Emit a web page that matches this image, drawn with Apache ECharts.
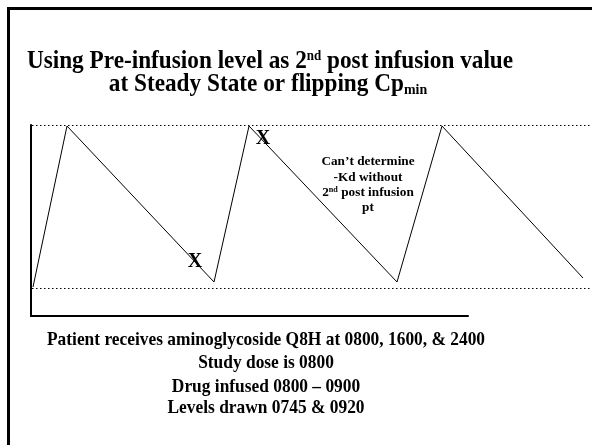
<!DOCTYPE html>
<html>
<head>
<meta charset="utf-8">
<script src="https://cdn.jsdelivr.net/npm/echarts@6/dist/echarts.min.js"></script>
<style>
  html, body { margin: 0; padding: 0; background: #fff; }
  #chart { width: 592px; height: 445px; }
</style>
</head>
<body>
<div id="chart"></div>
<script>
// sawtooth concentration curve (schematic units)
const curveX = [2, 36, 183, 218, 366, 411, 552];
const curveY = [29, 190, 34, 190, 34, 190, 38];
// dotted steady-state levels
const levelX = [1, 560];
const cpMax = 190.5;
const cpMin = 27.5;
// the two "X" points
const markX = [164, 232];
const markY = [54, 177];
const markText = ['X', 'X'];

const titleLines = ['Using Pre-infusion level as 2{sup|nd} post infusion value', 'at Steady State or flipping Cp{sub|min}'];
const noteLines = ['Can\u2019t determine', '-Kd without', '2{sup|nd} post infusion', 'pt'];
const footLines = [
  'Patient receives aminoglycoside Q8H at 0800, 1600, & 2400',
  'Study dose is 0800',
  'Drug infused 0800 \u2013 0900',
  'Levels drawn 0745 & 0920'
];

const FONT = '"Liberation Serif", "Times New Roman", serif';

const chart = echarts.init(document.getElementById('chart'));

const zip = (xs, ys) => xs.map((x, i) => [x, ys[i]]);

const textEl = (text, x, y, size, sx, rich) => ({
  type: 'text',
  x: x, y: y,
  scaleX: sx,
  style: {
    text: text,
    x: 0, y: 0,
    align: 'center',
    verticalAlign: 'middle',
    font: 'bold ' + size + 'px ' + FONT,
    fill: '#000',
    rich: rich
  }
});

const titleRich = {
  sup: { fontFamily: FONT, fontWeight: 'bold', fontSize: 14, verticalAlign: 'top', padding: [0, 0, 12, 0] },
  sub: { fontFamily: FONT, fontWeight: 'bold', fontSize: 15, padding: [10, 0, 0, 0] }
};

const noteRich = {
  sup: { fontFamily: FONT, fontWeight: 'bold', fontSize: 8, padding: [0, 0, 6, 0] }
};

const dotted = { color: '#000', width: 1, type: [1.5, 2.5] };

const option = {
  animation: false,
  backgroundColor: '#fff',
  grid: [
    { left: 31, top: 125, width: 560, height: 191 },
    { left: 31, top: 125, width: 437, height: 191 }
  ],
  xAxis: [
    { type: 'value', gridIndex: 0, min: 0, max: 560, axisLine: { show: false }, axisTick: { show: false }, axisLabel: { show: false }, splitLine: { show: false } },
    { type: 'value', gridIndex: 1, min: 0, max: 437, axisLine: { show: true, lineStyle: { color: '#000', width: 2 } }, axisTick: { show: false }, axisLabel: { show: false }, splitLine: { show: false } }
  ],
  yAxis: [
    { type: 'value', gridIndex: 0, min: 0, max: 191, axisLine: { show: true, lineStyle: { color: '#000', width: 2 } }, axisTick: { show: false }, axisLabel: { show: false }, splitLine: { show: false } },
    { type: 'value', gridIndex: 1, min: 0, max: 191, show: false }
  ],
  series: [
    {
      name: 'Cp max', type: 'line', xAxisIndex: 0, yAxisIndex: 0,
      data: zip(levelX, [cpMax, cpMax]), symbol: 'none',
      lineStyle: dotted
    },
    {
      name: 'Cp min', type: 'line', xAxisIndex: 0, yAxisIndex: 0,
      data: zip(levelX, [cpMin, cpMin]), symbol: 'none',
      lineStyle: dotted
    },
    {
      name: 'Concentration', type: 'line', xAxisIndex: 0, yAxisIndex: 0,
      data: zip(curveX, curveY), symbol: 'none',
      lineStyle: { color: '#000', width: 1 }
    },
    {
      name: 'Levels', type: 'scatter', xAxisIndex: 0, yAxisIndex: 0,
      data: zip(markX, markY), symbolSize: 1,
      itemStyle: { color: 'rgba(0,0,0,0)', opacity: 1 },
      label: {
        show: true, position: 'inside',
        formatter: p => markText[p.dataIndex],
        fontFamily: FONT, fontWeight: 'bold', fontSize: 20, color: '#000'
      }
    }
  ],
  graphic: [
    {
      type: 'rect',
      shape: { x: 8.5, y: 8.5, width: 700, height: 600 },
      style: { fill: 'none', stroke: '#000', lineWidth: 3 },
      silent: true
    },
    textEl(titleLines[0], 270, 62, 25, 0.93, titleRich),
    textEl(titleLines[1], 268, 85, 25, 0.93, titleRich),
    textEl(noteLines[0], 368, 162, 13, 1.02, noteRich),
    textEl(noteLines[1], 368, 178, 13, 1.02, noteRich),
    textEl(noteLines[2], 368, 193, 13, 1.02, noteRich),
    textEl(noteLines[3], 368, 208, 13, 1.02, noteRich),
    textEl(footLines[0], 266, 340, 19, 0.915),
    textEl(footLines[1], 266, 363, 19, 0.915),
    textEl(footLines[2], 266, 387, 19, 0.915),
    textEl(footLines[3], 266, 408, 19, 0.915)
  ]
};

chart.setOption(option);
</script>
</body>
</html>
